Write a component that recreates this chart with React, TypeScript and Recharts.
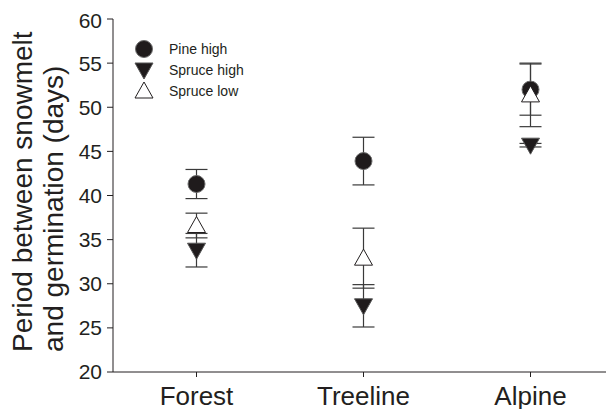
import React from "react";
import {
  ScatterChart,
  Scatter,
  XAxis,
  YAxis,
  ErrorBar,
} from "recharts";

const sites = ["Forest", "Treeline", "Alpine"];
const pineHigh = [41.3, 43.9, 52.0];
const pineHighErr = [1.65, 2.7, 2.9];
const spruceHigh = [33.8, 27.5, 45.7];
const spruceHighErr = [1.9, 2.4, 0.2];
const spruceLow = [36.6, 32.9, 51.4];
const spruceLowErr = [1.4, 3.4, 3.6];
const yTicks = [20, 25, 30, 35, 40, 45, 50, 55, 60];

const FONT = "'Liberation Sans', Arial, sans-serif";
const INK = "#231f20";

const toRows = (vals: number[], errs: number[]) =>
  vals.map((v, i) => ({ x: i + 1, y: v, err: errs[i] }));

const pineData = toRows(pineHigh, pineHighErr);
const spruceHighData = toRows(spruceHigh, spruceHighErr);
const spruceLowData = toRows(spruceLow, spruceLowErr);

const Dot = (p: any) => (
  <circle cx={p.cx} cy={p.cy} r={8.5} fill="#1f1b1c" stroke="#6d6d6d" strokeWidth={1} />
);

const DownTri = (p: any) => (
  <polygon
    points={`${p.cx - 9},${p.cy - 7} ${p.cx + 9},${p.cy - 7} ${p.cx},${p.cy + 9}`}
    fill="#1f1b1c"
    stroke="#555"
    strokeWidth={1}
  />
);

const UpTri = (p: any) => (
  <polygon
    points={`${p.cx},${p.cy - 9} ${p.cx - 9},${p.cy + 7} ${p.cx + 9},${p.cy + 7}`}
    fill="#fff"
    stroke={INK}
    strokeWidth={1}
  />
);

const legendItems = [
  { name: "Pine high", shape: Dot },
  { name: "Spruce high", shape: DownTri },
  { name: "Spruce low", shape: UpTri },
];

const LegendBox = () => (
  <div style={{ position: "absolute", left: 125, top: 31, whiteSpace: "nowrap" }}>
    {legendItems.map((it) => (
      <div key={it.name} style={{ display: "flex", alignItems: "center", height: 20.7 }}>
        <svg width={22} height={20}>
          <it.shape cx={11} cy={10} />
        </svg>
        <span style={{ marginLeft: 14, fontSize: 14, fontFamily: FONT, color: INK }}>{it.name}</span>
      </div>
    ))}
  </div>
);

const YLabel = () => (
  <g>
    <text
      transform="translate(24,344) rotate(-90)"
      fontSize={28}
      fontFamily={FONT}
      fill={INK}
      textAnchor="start"
    >
      Period between snowmelt
    </text>
    <text
      transform="translate(55,344) rotate(-90)"
      fontSize={28}
      fontFamily={FONT}
      fill={INK}
      textAnchor="start"
    >
      and germination (days)
    </text>
  </g>
);

export default function App() {
  return (
    <div style={{ position: "relative", width: 606, height: 401 }}>
      <ScatterChart
        width={606}
        height={401}
        margin={{ top: 11, right: 0, bottom: 0, left: 0 }}
        style={{ fontFamily: FONT }}
      >
        <XAxis
          type="number"
          dataKey="x"
          domain={[0.5, 3.5]}
          ticks={[1, 2, 3]}
          tickFormatter={(v: number) => sites[v - 1]}
          height={37}
          tickSize={5}
          tickMargin={10}
          stroke={INK}
          tick={{ fill: INK, fontSize: 26, fontFamily: FONT }}
          allowDataOverflow
        />
        <YAxis
          type="number"
          dataKey="y"
          domain={[20, 60]}
          ticks={yTicks}
          width={105}
          tickSize={6}
          tickMargin={5}
          stroke={INK}
          tick={{ fill: INK, fontSize: 21, fontFamily: FONT }}
          allowDataOverflow
          label={<YLabel />}
        />
        <Scatter name="Pine high" data={pineData} shape={<Dot />} isAnimationActive={false}>
          <ErrorBar dataKey="err" direction="y" width={11} stroke="#3a3a3a" strokeWidth={1.2} />
        </Scatter>
        <Scatter name="Spruce high" data={spruceHighData} shape={<DownTri />} isAnimationActive={false}>
          <ErrorBar dataKey="err" direction="y" width={11} stroke="#3a3a3a" strokeWidth={1.2} />
        </Scatter>
        <Scatter name="Spruce low" data={spruceLowData} shape={<UpTri />} isAnimationActive={false}>
          <ErrorBar dataKey="err" direction="y" width={11} stroke="#3a3a3a" strokeWidth={1.2} />
        </Scatter>
      </ScatterChart>
      <LegendBox />
    </div>
  );
}
